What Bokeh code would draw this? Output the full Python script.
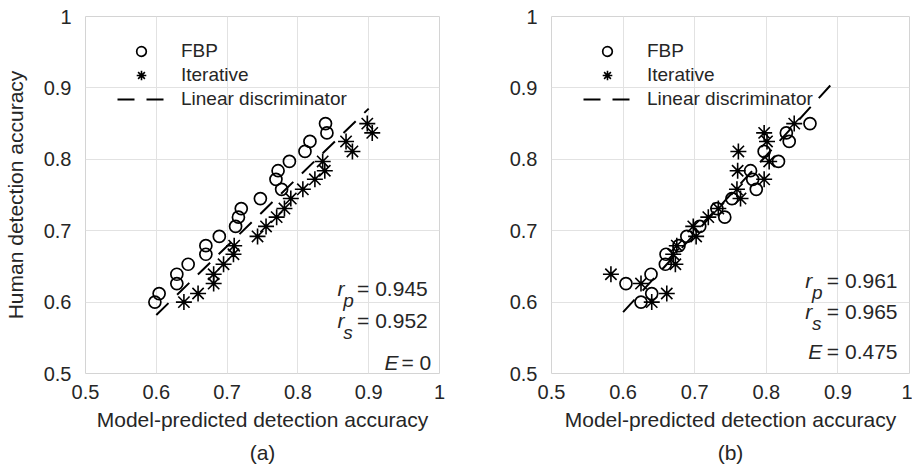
from bokeh.plotting import figure
from bokeh.layouts import row
from bokeh.models import FixedTicker, Label, Legend, LegendItem, Title, Range1d
from bokeh.embed import file_html
from bokeh.resources import INLINE

# Human detection accuracy levels (shared by all series, in the same order)
human_acc = [0.600, 0.612, 0.626, 0.639, 0.653, 0.667, 0.679, 0.692, 0.706, 0.719,
             0.731, 0.745, 0.758, 0.772, 0.784, 0.797, 0.811, 0.825, 0.837, 0.850]

# Panel (a): model-predicted accuracy, E = 0
fbp_a = [0.598, 0.604, 0.629, 0.629, 0.645, 0.670, 0.670, 0.689, 0.712, 0.716,
         0.720, 0.747, 0.777, 0.769, 0.772, 0.788, 0.810, 0.817, 0.841, 0.839]
iter_a = [0.639, 0.659, 0.681, 0.681, 0.695, 0.709, 0.710, 0.743, 0.755, 0.770,
          0.781, 0.790, 0.807, 0.824, 0.838, 0.835, 0.877, 0.868, 0.905, 0.898]

# Panel (b): model-predicted accuracy, E = 0.475
fbp_b = [0.625, 0.640, 0.604, 0.639, 0.659, 0.660, 0.678, 0.689, 0.707, 0.742,
         0.731, 0.752, 0.786, 0.781, 0.778, 0.817, 0.797, 0.832, 0.828, 0.861]
iter_b = [0.640, 0.661, 0.625, 0.583, 0.673, 0.670, 0.675, 0.702, 0.698, 0.719,
          0.733, 0.764, 0.759, 0.797, 0.760, 0.804, 0.761, 0.801, 0.797, 0.839]

# Linear discriminator lines
disc_a_x = [0.6, 0.9]
disc_a_y = [0.582, 0.871]
disc_b_x = [0.6, 0.9]
disc_b_y = [0.586, 0.915]

ticks = [0.5, 0.6, 0.7, 0.8, 0.9, 1.0]
tick_labels = ["0.5", "0.6", "0.7", "0.8", "0.9", "1"]

stats_a = {"rp": "0.945", "rs": "0.952", "E": "0"}
stats_b = {"rp": "0.961", "rs": "0.965", "E": "0.475"}

FONT = "Liberation Sans"
TXT = "#262626"


def make_panel(fbp, itr, dx, dy, stats, caption, left_border, right_border, ylabel, pos):
    p = figure(width=456, height=469, x_range=Range1d(0.5, 1.0), y_range=Range1d(0.5, 1.0),
               output_backend="svg", toolbar_location=None,
               min_border_left=left_border, min_border_right=right_border,
               min_border_top=16, min_border_bottom=96)
    p.outline_line_color = "#d4d4d4"
    p.outline_line_width = 1
    overrides = {t: l for t, l in zip(ticks, tick_labels)}
    for ax in (p.xaxis[0], p.yaxis[0]):
        ax.ticker = FixedTicker(ticks=ticks)
        ax.major_label_overrides = overrides
        ax.major_tick_line_color = None
        ax.minor_tick_line_color = None
        ax.axis_line_color = None
        ax.major_label_text_font = FONT
        ax.major_label_text_font_size = "20px"
        ax.major_label_text_color = TXT
        ax.axis_label_text_font = FONT
        ax.axis_label_text_font_size = "21px"
        ax.axis_label_text_font_style = "normal"
        ax.axis_label_text_color = TXT
    p.xaxis[0].major_label_standoff = 5
    p.yaxis[0].major_label_standoff = 8
    p.xaxis[0].axis_label = "Model-predicted detection accuracy"
    p.xaxis[0].axis_label_standoff = 6
    if ylabel:
        p.yaxis[0].axis_label = ylabel
        p.yaxis[0].axis_label_standoff = 14
    p.grid.grid_line_color = "#e2e2e2"
    p.grid.grid_line_width = 1
    p.xgrid.ticker = FixedTicker(ticks=ticks)
    p.ygrid.ticker = FixedTicker(ticks=ticks)

    r_line = p.line(dx, dy, line_color="black", line_width=2, line_dash="17 12")
    r_fbp = p.scatter(fbp, human_acc, marker="circle", size=12, fill_color=None,
                      line_color="black", line_width=1.7)
    r_it = p.scatter(itr, human_acc, marker="asterisk", size=16,
                     line_color="black", line_width=1.6)

    legend = Legend(items=[LegendItem(label="FBP", renderers=[r_fbp]),
                           LegendItem(label="Iterative", renderers=[r_it]),
                           LegendItem(label="Linear discriminator", renderers=[r_line])],
                    location=(32, 262), glyph_width=48, glyph_height=24, label_height=24,
                    spacing=0, label_standoff=16, padding=0, margin=0,
                    border_line_color=None, background_fill_alpha=0,
                    label_text_font=FONT, label_text_font_size="19px",
                    label_text_color=TXT)
    p.add_layout(legend)

    common = dict(text_font=FONT, text_baseline="middle", text_color=TXT)
    (rx, sx, eqx, yp, ypsub, ys, yssub, ex, eeqx, ey) = pos
    p.add_layout(Label(x=rx, y=yp, text="r", text_font_style="italic", text_font_size="21px", **common))
    p.add_layout(Label(x=sx, y=ypsub, text="p", text_font_style="italic", text_font_size="19px", **common))
    p.add_layout(Label(x=eqx, y=yp, text="= " + stats["rp"], text_font_size="21px", **common))
    p.add_layout(Label(x=rx, y=ys, text="r", text_font_style="italic", text_font_size="21px", **common))
    p.add_layout(Label(x=sx, y=yssub, text="s", text_font_style="italic", text_font_size="19px", **common))
    p.add_layout(Label(x=eqx, y=ys, text="= " + stats["rs"], text_font_size="21px", **common))
    p.add_layout(Label(x=ex, y=ey, text="E", text_font_style="italic", text_font_size="21px", **common))
    p.add_layout(Label(x=eeqx, y=ey, text="= " + stats["E"], text_font_size="21px", **common))

    p.add_layout(Title(text=caption, align="center", text_font=FONT, text_font_size="21px",
                       text_font_style="normal", text_color=TXT), "below")
    return p


pa = make_panel(fbp_a, iter_a, disc_a_x, disc_a_y, stats_a, "(a)", 81, 17,
                "Human detection accuracy",
                (0.856, 0.8642, 0.8836, 0.619, 0.6026, 0.5736, 0.5568, 0.9223, 0.9463, 0.5158))
pb = make_panel(fbp_b, iter_b, disc_b_x, disc_b_y, stats_b, "(b)", 95, 3, None,
                (0.8543, 0.8637, 0.8846, 0.6306, 0.6138, 0.5862, 0.5700, 0.8585, 0.8846, 0.5312))

layout = row(pa, pb)
open("out.html", "w").write(file_html(layout, INLINE))
